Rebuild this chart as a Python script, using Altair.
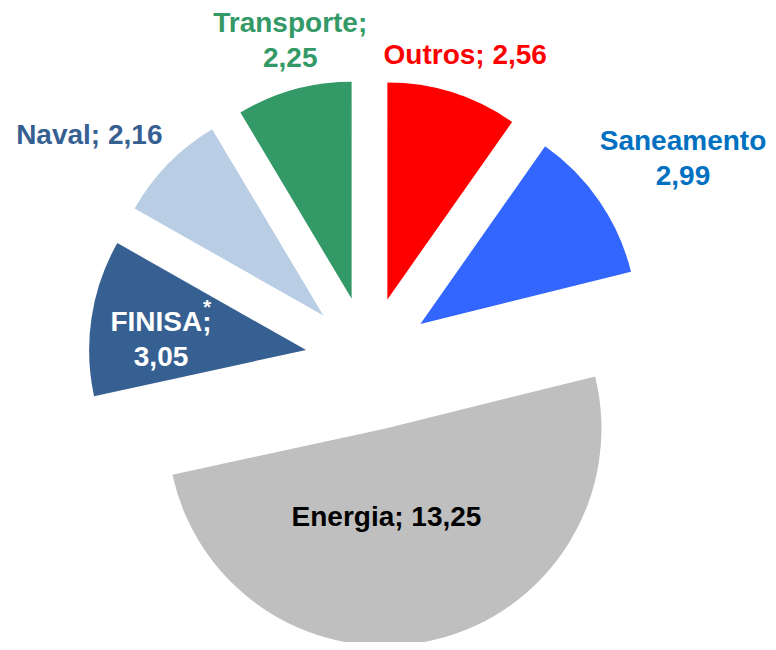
import altair as alt
import pandas as pd

# ---- data (clockwise from 12 o'clock) ----
categories = ["Outros", "Saneamento", "Energia", "FINISA", "Naval", "Transporte"]
values = [2.56, 2.99, 13.25, 3.05, 2.16, 2.25]
labels = ["Outros; 2,56", "Saneamento\n2,99", "Energia; 13,25",
          "FINISA;\n3,05", "Naval; 2,16", "Transporte;\n2,25"]

# ---- styles ----
slice_colors = {"Outros": "#FF0000", "Saneamento": "#3366FF", "Energia": "#BFBFBF",
                "FINISA": "#376092", "Naval": "#B9CDE5", "Transporte": "#339966"}
label_colors = {"Outros": "#FF0000", "Saneamento": "#0070C0", "Energia": "#000000",
                "FINISA": "#FFFFFF", "Naval": "#376092", "Transporte": "#339966"}
explode = {"Outros": 63, "Saneamento": 63, "Energia": 71,
           "FINISA": 63, "Naval": 63, "Transporte": 63}
# label placement (first line) relative to the slice tip: (radius px, angle deg clockwise from top)
label_polar = {"Outros": (256, 17.7), "Saneamento": (319.2, 55.36), "Energia": (89, 178.7),
               "FINISA": (147.5, 280.4), "Naval": (295, 307.5), "Transporte": (281.5, 347.4)}

W, H = 760, 634
CX, CY = 360.4, 351.5
R = 217

df = pd.DataFrame({
    "cat": categories,
    "value": values,
    "label": labels,
    "order": list(range(len(categories))),
})
df["color"] = df["cat"].map(slice_colors)
df["tcolor"] = df["cat"].map(label_colors)
df["ex"] = df["cat"].map(explode)
df["lr"] = df["cat"].map(lambda c: label_polar[c][0])
df["ladeg"] = df["cat"].map(lambda c: label_polar[c][1])

base = (
    alt.Chart(df)
    .transform_joinaggregate(total="sum(value)")
    .transform_window(cum="sum(value)", sort=[alt.SortField("order")], frame=[None, 0])
    .transform_calculate(
        t2="datum.cum / datum.total * 2 * PI",
        t1="(datum.cum - datum.value) / datum.total * 2 * PI",
    )
    .transform_calculate(mid="(datum.t1 + datum.t2) / 2", la="datum.ladeg * PI / 180")
    .transform_calculate(
        px=f"{CX} + datum.ex * sin(datum.mid)",
        py=f"{CY} - datum.ex * cos(datum.mid)",
    )
)

arcs = base.mark_arc(outerRadius=R, innerRadius=0).encode(
    theta=alt.Theta("t1:Q", scale=None, stack=None),
    theta2="t2:Q",
    x=alt.X("px:Q", scale=None),
    y=alt.Y("py:Q", scale=None),
    color=alt.Color("color:N", scale=None),
)

text = base.mark_text(
    font="Liberation Sans", fontWeight="bold", fontSize=28,
    lineBreak="\n", lineHeight=35, align="center", baseline="middle",
).encode(
    x=alt.X("px:Q", scale=None),
    y=alt.Y("py:Q", scale=None),
    theta=alt.Theta("la:Q", scale=None, stack=None),
    radius=alt.Radius("lr:Q", scale=None),
    text="label:N",
    color=alt.Color("tcolor:N", scale=None),
)

star = base.transform_filter(alt.datum.cat == "FINISA").mark_text(
    font="Liberation Sans", fontWeight="bold", fontSize=21,
    align="center", baseline="middle", dx=46, dy=-15,
).encode(
    x=alt.X("px:Q", scale=None),
    y=alt.Y("py:Q", scale=None),
    theta=alt.Theta("la:Q", scale=None, stack=None),
    radius=alt.Radius("lr:Q", scale=None),
    text=alt.value("*"),
    color=alt.Color("tcolor:N", scale=None),
)

chart = (
    alt.layer(arcs, text, star)
    .properties(width=W, height=H, padding=0, autosize=alt.AutoSizeParams(type="none"),
                background="white")
    .configure_view(stroke=None)
)

chart.save("out.html", embed_options={"renderer": "svg", "actions": False})
